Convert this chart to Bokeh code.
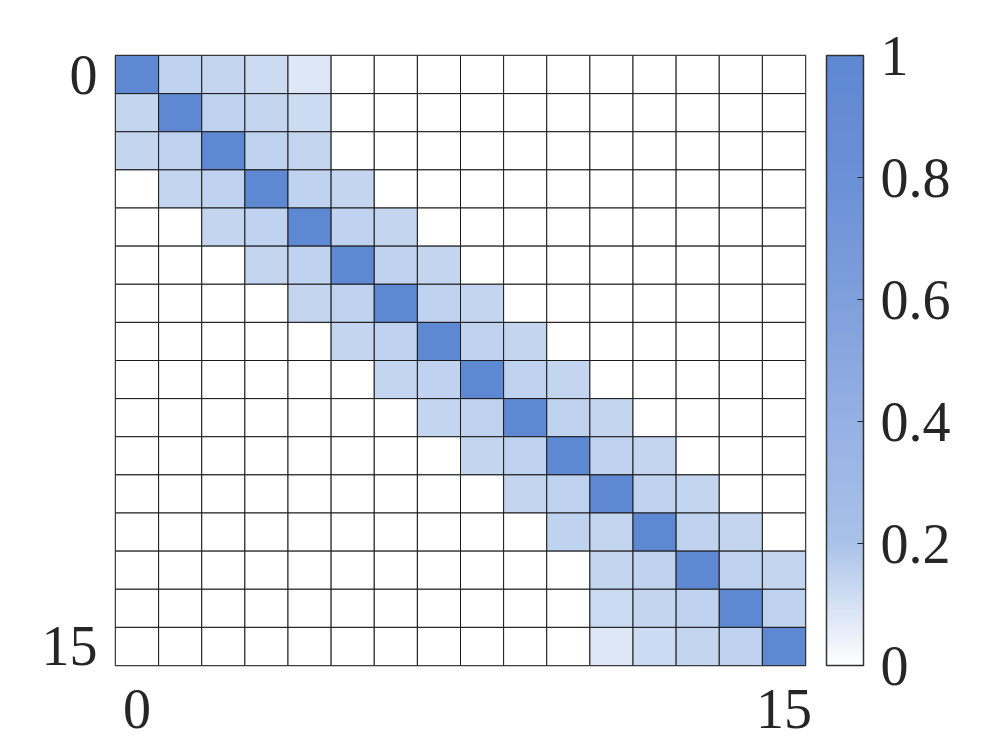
import numpy as np
from bokeh.plotting import figure
from bokeh.models import (ColumnDataSource, LinearColorMapper, ColorBar,
                          FixedTicker)
from bokeh.embed import file_html
from bokeh.resources import INLINE

# ---- data -------------------------------------------------------------
n = 16
row_labels = {0: "0", 15: "15"}
col_labels = {0: "0", 15: "15"}
colorbar_ticks = [0, 0.2, 0.4, 0.6, 0.8, 1]

# banded correlation-like matrix (rows top -> bottom)
matrix = [
    [1.00, 0.15, 0.14, 0.12, 0.08, 0, 0, 0, 0, 0, 0, 0, 0, 0, 0, 0],
    [0.14, 1.00, 0.15, 0.14, 0.12, 0, 0, 0, 0, 0, 0, 0, 0, 0, 0, 0],
    [0.14, 0.15, 1.00, 0.15, 0.14, 0, 0, 0, 0, 0, 0, 0, 0, 0, 0, 0],
    [0, 0.14, 0.15, 1.00, 0.15, 0.14, 0, 0, 0, 0, 0, 0, 0, 0, 0, 0],
    [0, 0, 0.14, 0.15, 1.00, 0.15, 0.14, 0, 0, 0, 0, 0, 0, 0, 0, 0],
    [0, 0, 0, 0.14, 0.15, 1.00, 0.15, 0.14, 0, 0, 0, 0, 0, 0, 0, 0],
    [0, 0, 0, 0, 0.14, 0.15, 1.00, 0.15, 0.14, 0, 0, 0, 0, 0, 0, 0],
    [0, 0, 0, 0, 0, 0.14, 0.15, 1.00, 0.15, 0.14, 0, 0, 0, 0, 0, 0],
    [0, 0, 0, 0, 0, 0, 0.14, 0.15, 1.00, 0.15, 0.14, 0, 0, 0, 0, 0],
    [0, 0, 0, 0, 0, 0, 0, 0.14, 0.15, 1.00, 0.15, 0.14, 0, 0, 0, 0],
    [0, 0, 0, 0, 0, 0, 0, 0, 0.14, 0.15, 1.00, 0.15, 0.14, 0, 0, 0],
    [0, 0, 0, 0, 0, 0, 0, 0, 0, 0.14, 0.15, 1.00, 0.15, 0.14, 0, 0],
    [0, 0, 0, 0, 0, 0, 0, 0, 0, 0, 0.15, 0.14, 1.00, 0.15, 0.14, 0],
    [0, 0, 0, 0, 0, 0, 0, 0, 0, 0, 0, 0.14, 0.15, 1.00, 0.15, 0.14],
    [0, 0, 0, 0, 0, 0, 0, 0, 0, 0, 0, 0.12, 0.14, 0.15, 1.00, 0.15],
    [0, 0, 0, 0, 0, 0, 0, 0, 0, 0, 0, 0.08, 0.12, 0.14, 0.15, 1.00],
]

# ---- colormap (white -> light blue -> blue) ----------------------------
knots = [0.0, 0.2, 0.4, 0.6, 0.8, 1.0]
knot_colors = ["#ffffff", "#a9c2e9", "#95b0e3", "#7f9fdc", "#6a90d6", "#5f88d3"]


def hex2rgb(h):
    h = h.lstrip("#")
    return [int(h[i:i + 2], 16) for i in (0, 2, 4)]


kc = np.array([hex2rgb(c) for c in knot_colors], dtype=float)
t = np.linspace(0, 1, 256)
palette = []
for tt in t:
    r = np.interp(tt, knots, kc[:, 0])
    g = np.interp(tt, knots, kc[:, 1])
    b = np.interp(tt, knots, kc[:, 2])
    palette.append("#%02x%02x%02x" % (int(round(r)), int(round(g)), int(round(b))))

mapper = LinearColorMapper(palette=palette, low=0, high=1)

xs, ys, vals = [], [], []
for i, row in enumerate(matrix):
    for j, v in enumerate(row):
        xs.append(j)
        ys.append(i)
        vals.append(v)
src = ColumnDataSource(dict(x=xs, y=ys, v=vals))

FONT = "Liberation Serif"
TXT = "#262626"

p = figure(width=983, height=739, x_range=(-0.5, n - 0.5), y_range=(n - 0.5, -0.5),
           output_backend="svg", toolbar_location=None,
           min_border_left=115, min_border_top=55, min_border_bottom=74,
           min_border_right=178)

p.rect(x="x", y="y", width=1, height=1, source=src,
       fill_color={"field": "v", "transform": mapper},
       line_color="#1a1a1a", line_width=1)

p.grid.visible = False
p.outline_line_color = "#333333"
p.outline_line_width = 1.5

for ax, labels in ((p.xaxis[0], col_labels), (p.yaxis[0], row_labels)):
    ax.ticker = FixedTicker(ticks=list(labels.keys()))
    ax.major_label_overrides = labels
    ax.major_tick_line_color = None
    ax.minor_tick_line_color = None
    ax.axis_line_color = None
    ax.major_label_text_font = FONT
    ax.major_label_text_font_size = "56px"
    ax.major_label_text_color = TXT
p.xaxis.major_label_standoff = 18
p.yaxis.major_label_standoff = 12

cb = ColorBar(color_mapper=mapper, width=37, height=610,
              ticker=FixedTicker(ticks=colorbar_ticks),
              major_label_text_font=FONT, major_label_text_font_size="56px",
              major_label_text_color=TXT,
              major_tick_in=6, major_tick_out=0, major_tick_line_color="#262626",
              minor_tick_line_color=None,
              bar_line_color="#333333", bar_line_width=1.5,
              label_standoff=17, padding=0,
              background_fill_color=None, border_line_color=None,
              location=(21, 0))
p.add_layout(cb, "right")

open("out.html", "w").write(file_html(p, INLINE))
